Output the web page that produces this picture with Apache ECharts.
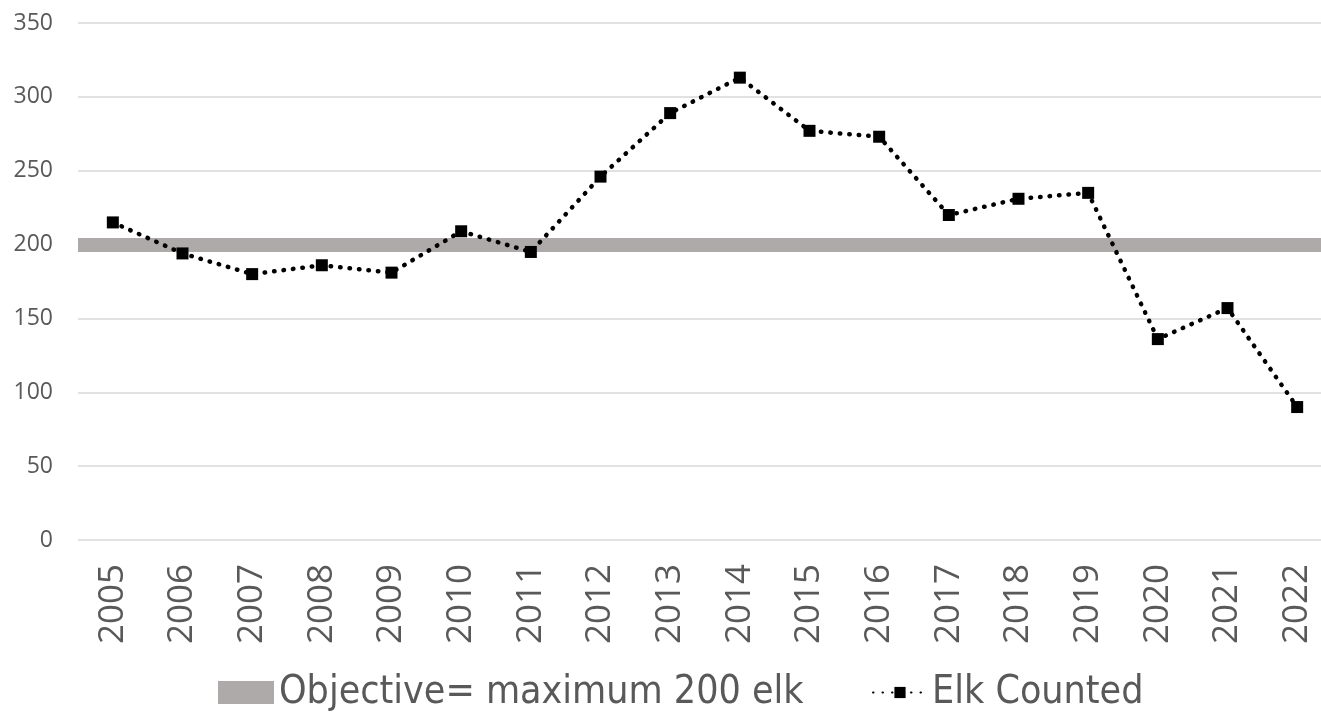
<!DOCTYPE html>
<html>
<head>
<meta charset="utf-8">
<script src="https://cdn.jsdelivr.net/npm/echarts@6/dist/echarts.min.js"></script>
<style>html,body{margin:0;padding:0;background:#fff;}#c{width:1321px;height:715px;}</style>
</head>
<body>
<div id="c"></div>
<script>
const years = ['2005','2006','2007','2008','2009','2010','2011','2012','2013','2014','2015','2016','2017','2018','2019','2020','2021','2022'];
const elkCounted = [215,194,180,186,181,209,195,246,289,313,277,273,220,231,235,136,157,90];
const objective = 200;
const yTicks = {min:0, max:350, interval:50};

const chart = echarts.init(document.getElementById('c'), null, {renderer:'canvas'});
const legendFont = '"Liberation Sans Narrow", "DejaVu Sans Condensed", sans-serif';
chart.setOption({
  animation:false,
  grid:{left:78, top:23, right:-11, bottom:175, containLabel:false, outerBoundsMode:'none'},
  xAxis:{
    type:'category', data:years, boundaryGap:true,
    axisLine:{show:false}, axisTick:{show:false},
    axisLabel:{rotate:90, margin:24, color:'#595959', fontSize:35, fontFamily:'"Open Sans", sans-serif', interval:0}
  },
  yAxis:{
    type:'value', min:yTicks.min, max:yTicks.max, interval:yTicks.interval,
    axisLine:{show:false}, axisTick:{show:false},
    axisLabel:{margin:25, color:'#595959', fontSize:23, fontFamily:'"Open Sans", sans-serif'},
    splitLine:{lineStyle:{color:'#d9d9d9', width:1.5}}
  },
  legend:[
    {data:[{name:'Objective= maximum 200 elk', icon:'rect'}], left:213, top:668, itemWidth:56, itemHeight:23,
     textStyle:{color:'#595959', fontSize:39, fontFamily:legendFont}},
    {data:['Elk Counted'], left:867, top:668, itemWidth:54, itemHeight:14,
     textStyle:{color:'#595959', fontSize:39, fontFamily:legendFont}}
  ],
  series:[
    {name:'Objective= maximum 200 elk', type:'line', data:[], color:'#aeaaaa', z:1,
     itemStyle:{color:'#aeaaaa'},
     markLine:{silent:true, symbol:'none', label:{show:false}, z:1,
       lineStyle:{color:'#aeaaaa', width:14, type:'solid'},
       emphasis:{disabled:true},
       data:[{yAxis:objective}]}},
    {name:'Elk Counted', type:'line', data:elkCounted, z:5, color:'#000',
     symbol:'rect', symbolSize:12, itemStyle:{color:'#000'},
     lineStyle:{color:'#000', width:4.5, type:[0.5,9], cap:'round'}}
  ]
});
</script>
</body>
</html>
